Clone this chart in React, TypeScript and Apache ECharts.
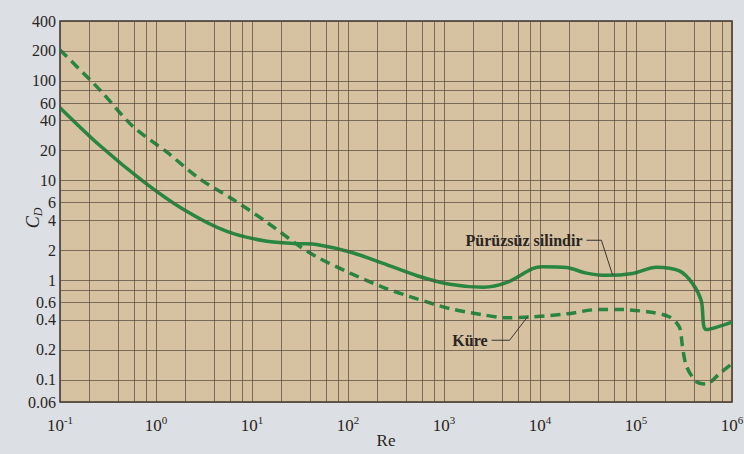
import React, { useEffect, useRef } from "react";
import * as echarts from "echarts";

// Smooth cylinder (solid curve)
const cylinderRe = [0.1, 0.26, 0.73, 1.9, 5.4, 14.3, 31.6, 47, 105, 232, 525, 1150, 2550, 4530, 8350, 10600, 18900, 30500, 49200, 91800, 163000, 283000, 387000, 479000, 540000, 1000000];
const cylinderCd = [54, 22.5, 9.9, 5.2, 3.11, 2.46, 2.33, 2.28, 1.92, 1.48, 1.11, 0.91, 0.85, 0.95, 1.31, 1.37, 1.34, 1.18, 1.12, 1.17, 1.35, 1.24, 0.93, 0.62, 0.32, 0.38];

// Sphere (dashed curve)
const sphereRe = [0.1, 0.26, 0.575, 1.3, 2.86, 6.3, 14.3, 31.6, 47, 105, 232, 525, 1150, 2550, 4530, 8350, 18900, 41700, 62500, 138000, 222000, 283000, 304000, 335000, 425000, 540000, 738000, 1000000];
const sphereCd = [205, 81.5, 35, 19.3, 10.4, 6.5, 3.82, 2.18, 1.72, 1.18, 0.85, 0.65, 0.52, 0.45, 0.42, 0.43, 0.46, 0.51, 0.51, 0.48, 0.43, 0.34, 0.22, 0.138, 0.096, 0.091, 0.115, 0.146];

// Tick labels
const xTickValues = [0.1, 1, 10, 100, 1000, 10000, 100000, 1000000];
const yTickValues = [0.06, 0.1, 0.2, 0.4, 0.6, 1, 2, 4, 6, 10, 20, 40, 60, 100, 200, 400];

// Grid lines (graph paper)
const xGridValues = [
  0.1, 0.2, 0.4, 0.6, 0.8,
  1, 2, 4, 6, 8,
  10, 20, 40, 60, 80,
  100, 200, 400, 600, 800,
  1000, 2000, 4000, 6000, 8000,
  10000, 20000, 40000, 60000, 80000,
  100000, 200000, 400000, 600000, 800000,
  1000000,
];
const yGridValues = [0.06, 0.1, 0.2, 0.4, 0.6, 0.8, 1, 2, 4, 6, 8, 10, 20, 40, 60, 80, 100, 200, 400];

// Annotations
const cylinderLabel = "Pürüzsüz silindir";
const sphereLabel = "Küre";
const xAxisTitle = "Re";
const cylinderLeader = [[30500, 2.52], [43600, 2.52], [57000, 1.13]];
const sphereLeader = [[3130, 0.25], [4820, 0.25], [7420, 0.43]];

export default function App() {
  const ref = useRef<HTMLDivElement>(null);

  useEffect(() => {
    const chart = echarts.init(ref.current as HTMLDivElement, null, { renderer: "svg" });
    const font = "Liberation Serif";
    const green = "#278640";
    const ink = "#2a2520";
    const gridColor = "rgba(92,78,64,0.75)";

    const option: any = {
      animation: false,
      backgroundColor: "#dcdfe4",
      grid: {
        left: 60,
        right: 12,
        top: 21,
        bottom: 52,
        outerBoundsMode: "none",
        containLabel: false,
        show: true,
        backgroundColor: "#d6c1a0",
        borderColor: "#3a332c",
        borderWidth: 1.5,
      },
      xAxis: {
        type: "log",
        logBase: 10,
        min: 0.1,
        max: 1000000,
        axisLine: { show: false },
        axisTick: { show: false },
        splitLine: { show: false },
        axisLabel: {
          customValues: xTickValues,
          showMinLabel: true,
          showMaxLabel: true,
          hideOverlap: false,
          margin: 12,
          formatter: (v: number) => `{b|10}{s|${Math.round(Math.log10(v))}}`,
          rich: {
            b: { fontFamily: font, fontSize: 17, color: ink, lineHeight: 20, verticalAlign: "bottom" },
            s: { fontFamily: font, fontSize: 11, color: ink, lineHeight: 14, verticalAlign: "top" },
          },
        },
      },
      yAxis: {
        type: "log",
        logBase: 10,
        min: 0.06,
        max: 400,
        axisLine: { show: false },
        axisTick: { show: false },
        splitLine: { show: false },
        axisLabel: {
          customValues: yTickValues,
          showMinLabel: true,
          showMaxLabel: true,
          hideOverlap: false,
          margin: 4,
          fontFamily: font,
          fontSize: 16,
          color: ink,
          formatter: (v: number) => String(Number(v.toPrecision(3))),
        },
      },
      series: [
        {
          type: "line",
          silent: true,
          z: 1,
          showSymbol: false,
          lineStyle: { opacity: 0, width: 0 },
          data: cylinderRe.map((r, i) => [r, cylinderCd[i]]),
          markLine: {
            silent: true,
            symbol: ["none", "none"],
            label: { show: false },
            emphasis: { disabled: true },
            lineStyle: { color: gridColor, width: 1, type: "solid" },
            data: [
              ...xGridValues.map((v) => ({ xAxis: v })),
              ...yGridValues.map((v) => ({ yAxis: v })),
            ],
          },
        },
        {
          name: "Pürüzsüz silindir",
          type: "line",
          z: 3,
          smooth: 0.3,
          showSymbol: false,
          lineStyle: { color: green, width: 3.5 },
          data: cylinderRe.map((r, i) => [r, cylinderCd[i]]),
        },
        {
          name: "Küre",
          type: "line",
          z: 3,
          smooth: 0.3,
          showSymbol: false,
          lineStyle: { color: green, width: 3.5, type: [10, 6] },
          data: sphereRe.map((r, i) => [r, sphereCd[i]]),
        },
      ],
    };

    chart.setOption(option);

    const toPx = (p: number[]) => chart.convertToPixel({ gridIndex: 0 }, p) as number[];
    const cyl = cylinderLeader.map(toPx);
    const sph = sphereLeader.map(toPx);

    const labelStyle = {
      fontFamily: font,
      fontSize: 16,
      fontWeight: "bold",
      fill: ink,
      textAlign: "right",
      textVerticalAlign: "middle",
      align: "right",
      verticalAlign: "middle",
    };

    chart.setOption({
      graphic: [
        {
          type: "polyline",
          z: 10,
          shape: { points: cyl },
          style: { stroke: "#3a3530", lineWidth: 1, fill: null },
        },
        {
          type: "text",
          z: 10,
          x: cyl[0][0] - 4,
          y: cyl[0][1],
          style: { ...labelStyle, text: cylinderLabel },
        },
        {
          type: "polyline",
          z: 10,
          shape: { points: sph },
          style: { stroke: "#3a3530", lineWidth: 1, fill: null },
        },
        {
          type: "text",
          z: 10,
          x: sph[0][0] - 4,
          y: sph[0][1],
          style: { ...labelStyle, text: sphereLabel },
        },
        {
          type: "text",
          z: 10,
          x: 386,
          y: 440,
          style: {
            text: xAxisTitle,
            fontFamily: font,
            fontSize: 17,
            fill: ink,
            textAlign: "center",
            textVerticalAlign: "middle",
            align: "center",
            verticalAlign: "middle",
          },
        },
        {
          type: "text",
          z: 10,
          x: 34,
          y: 218,
          rotation: Math.PI / 2,
          style: {
            text: "{c|C}{d|D}",
            align: "center",
            verticalAlign: "middle",
            textAlign: "center",
            textVerticalAlign: "middle",
            rich: {
              c: { fontFamily: font, fontStyle: "italic", fontSize: 18, fill: ink, color: ink, lineHeight: 20, verticalAlign: "top" },
              d: { fontFamily: font, fontStyle: "italic", fontSize: 12, fill: ink, color: ink, lineHeight: 14, verticalAlign: "bottom" },
            },
          },
        },
      ],
    });

    return () => {
      chart.dispose();
    };
  }, []);

  return (
    <div
      ref={ref}
      style={{ position: "fixed", left: 0, top: 0, width: 744, height: 454 }}
    />
  );
}
